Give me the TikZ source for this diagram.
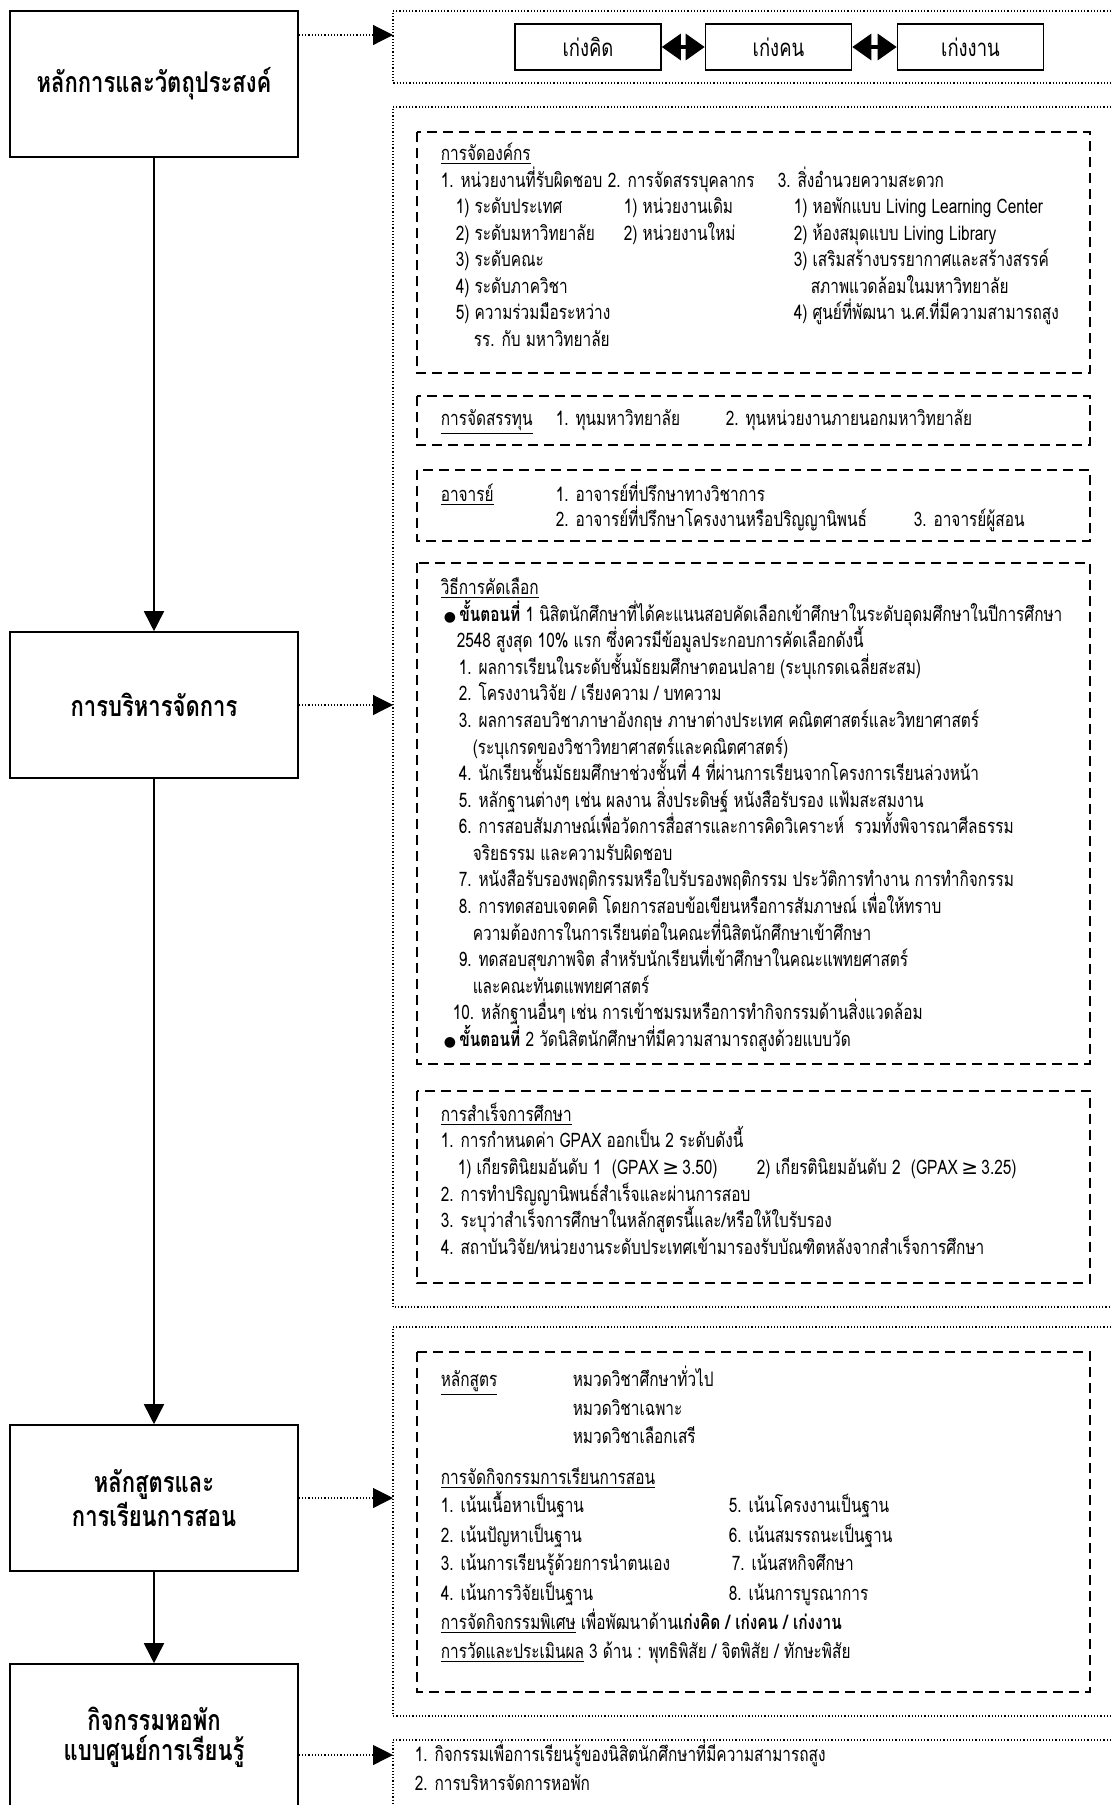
\documentclass[tikz,border=0pt]{standalone}
\usepackage{fontspec}
\setmainfont[Script=Thai,FakeStretch=0.77]{Loma}
\newfontfamily\symfont{DejaVu Sans}
\usepackage{tikz}
\usetikzlibrary{arrows.meta}

\newcommand{\dotb}{{\symfont\fontsize{7}{8}\selectfont ●}}
\newcommand{\gte}{\,{\symfont ≥}\,}

\begin{document}
\begin{tikzpicture}[x=0.5pt,y=-0.5pt,>={Triangle[length=10pt,width=10pt]},
                    line width=0.8pt]
  \tikzstyle{mainbox}=[rectangle,draw=black,fill=white,minimum width=144pt,
                       minimum height=73pt,align=center,
                       font=\fontsize{14.3}{15}\selectfont\bfseries]
  \tikzstyle{skill}=[rectangle,draw=black,fill=white,minimum width=73pt,
                     minimum height=23pt,font=\fontsize{12}{14}\selectfont]
  \tikzstyle{frame}=[densely dotted,line width=0.6pt]
  \tikzstyle{dbox}=[dash pattern=on 5pt off 3pt,line width=1pt]
  \tikzstyle{ln}=[anchor=west,inner sep=0pt,text height=7pt,text depth=2.5pt,
                  font=\fontsize{10}{12}\selectfont]

  \useasboundingbox (0,0) rectangle (1111,1805);

  % left column
  \node[mainbox] (aim)    at (154,84)   {หลักการและวัตถุประสงค์};
  \node[mainbox] (admin)  at (154,705)  {การบริหารจัดการ};
  \node[mainbox] (course) at (154,1498) {หลักสูตรและ\\การเรียนการสอน};
  \node[mainbox] (dorm)   at (154,1737) {กิจกรรมหอพัก\\แบบศูนย์การเรียนรู้};

  \draw[->] (aim) -- (admin);
  \draw[->] (admin) -- (course);
  \draw[->] (course) -- (dorm);

  % dotted frames on the right
  \draw[frame] (1111,11) -| (393,83) -- (1111,83);
  \draw[frame] (1111,107) -| (393,1307) -- (1111,1307);
  \draw[frame] (1111,1327) -| (393,1716) -- (1111,1716);
  \draw[frame] (1111,1740) -| (393,1815);

  \coordinate (tipA) at (393,35);
  \coordinate (tipB) at (393,705);
  \coordinate (tipC) at (393,1498);
  \coordinate (tipD) at (393,1755);
  \draw[frame,->] (aim.east |- tipA) -- (tipA);
  \draw[frame,->] (admin.east) -- (tipB);
  \draw[frame,->] (course.east) -- (tipC);
  \draw[frame,->] (dorm.east |- tipD) -- (tipD);

  % top frame
  \node[skill] (think) at (588,47)   {เก่งคิด};
  \node[skill] (mind)  at (778.5,47) {เก่งคน};
  \node[skill] (work)  at (970.5,47) {เก่งงาน};
  \draw[<->,line width=1.6pt,>={Triangle[length=9.5pt,width=13pt]}] (think) -- (mind);
  \draw[<->,line width=1.6pt,>={Triangle[length=9.5pt,width=13pt]}] (mind) -- (work);

  % dashed boxes
  \draw[dbox] (417,132) rectangle (1090,373);
  \draw[dbox] (417,396) rectangle (1090,445);
  \draw[dbox] (417,470) rectangle (1090,541);
  \draw[dbox] (417,563) rectangle (1090,1064);
  \draw[dbox] (417,1091) rectangle (1090,1283);
  \draw[dbox] (417,1352) rectangle (1090,1692);

  % organisation
  \node[ln] (org0)  at (440,156) {\underline{การจัดองค์กร}};
  \node[ln] (org1a) at (440,183) {1. หน่วยงานที่รับผิดชอบ};
  \node[ln] (org1b) at (607,183) {2. การจัดสรรบุคลากร};
  \node[ln] (org1c) at (777,183) {3. สิ่งอำนวยความสะดวก};
  \node[ln] (org2a) at (455,209) {1) ระดับประเทศ};
  \node[ln] (org2b) at (623,209) {1) หน่วยงานเดิม};
  \node[ln] (org2c) at (793,209) {1) หอพักแบบ Living Learning Center};
  \node[ln] (org3a) at (455,236) {2) ระดับมหาวิทยาลัย};
  \node[ln] (org3b) at (623,236) {2) หน่วยงานใหม่};
  \node[ln] (org3c) at (793,236) {2) ห้องสมุดแบบ Living Library};
  \node[ln] (org4a) at (455,262) {3) ระดับคณะ};
  \node[ln] (org4c) at (793,262) {3) เสริมสร้างบรรยากาศและสร้างสรรค์};
  \node[ln] (org5a) at (455,289) {4) ระดับภาควิชา};
  \node[ln] (org5c) at (810,289) {สภาพแวดล้อมในมหาวิทยาลัย};
  \node[ln] (org6a) at (455,315) {5) ความร่วมมือระหว่าง};
  \node[ln] (org6c) at (793,315) {4) ศูนย์ที่พัฒนา น.ศ.ที่มีความสามารถสูง};
  \node[ln] (org7a) at (473,342) {รร. กับ มหาวิทยาลัย};

  % funds
  \node[ln] (fund0) at (440,421) {\underline{การจัดสรรทุน}};
  \node[ln] (fund1) at (555,421) {1. ทุนมหาวิทยาลัย};
  \node[ln] (fund2) at (725,421) {2. ทุนหน่วยงานภายนอกมหาวิทยาลัย};

  % advisers
  \node[ln] (adv0) at (440,497) {\underline{อาจารย์}};
  \node[ln] (adv1) at (555,497) {1. อาจารย์ที่ปรึกษาทางวิชาการ};
  \node[ln] (adv2) at (555,522) {2. อาจารย์ที่ปรึกษาโครงงานหรือปริญญานิพนธ์};
  \node[ln] (adv3) at (913,522) {3. อาจารย์ผู้สอน};

  % selection
  \node[ln] (sel0)  at (440,590)  {\underline{วิธีการคัดเลือก}};
  \node[ln] (sel1)  at (443,617)  {\dotb\,\textbf{ขั้นตอนที่} 1 นิสิตนักศึกษาที่ได้คะแนนสอบคัดเลือกเข้าศึกษาในระดับอุดมศึกษาในปีการศึกษา};
  \node[ln] (sel2)  at (456,643)  {2548 สูงสุด 10\% แรก ซึ่งควรมีข้อมูลประกอบการคัดเลือกดังนี้};
  \node[ln] (sel3)  at (458,670)  {1. ผลการเรียนในระดับชั้นมัธยมศึกษาตอนปลาย (ระบุเกรดเฉลี่ยสะสม)};
  \node[ln] (sel4)  at (458,696)  {2. โครงงานวิจัย / เรียงความ / บทความ};
  \node[ln] (sel5)  at (458,723)  {3. ผลการสอบวิชาภาษาอังกฤษ ภาษาต่างประเทศ คณิตศาสตร์และวิทยาศาสตร์};
  \node[ln] (sel6)  at (472,750)  {(ระบุเกรดของวิชาวิทยาศาสตร์และคณิตศาสตร์)};
  \node[ln] (sel7)  at (458,776)  {4. นักเรียนชั้นมัธยมศึกษาช่วงชั้นที่ 4 ที่ผ่านการเรียนจากโครงการเรียนล่วงหน้า};
  \node[ln] (sel8)  at (458,803)  {5. หลักฐานต่างๆ เช่น ผลงาน สิ่งประดิษฐ์ หนังสือรับรอง แฟ้มสะสมงาน};
  \node[ln] (sel9)  at (458,829)  {6. การสอบสัมภาษณ์เพื่อวัดการสื่อสารและการคิดวิเคราะห์~ รวมทั้งพิจารณาศีลธรรม};
  \node[ln] (sel10) at (472,856)  {จริยธรรม และความรับผิดชอบ};
  \node[ln] (sel11) at (458,882)  {7. หนังสือรับรองพฤติกรรมหรือใบรับรองพฤติกรรม ประวัติการทำงาน การทำกิจกรรม};
  \node[ln] (sel12) at (458,909)  {8. การทดสอบเจตคติ โดยการสอบข้อเขียนหรือการสัมภาษณ์ เพื่อให้ทราบ};
  \node[ln] (sel13) at (472,936)  {ความต้องการในการเรียนต่อในคณะที่นิสิตนักศึกษาเข้าศึกษา};
  \node[ln] (sel14) at (458,962)  {9. ทดสอบสุขภาพจิต สำหรับนักเรียนที่เข้าศึกษาในคณะแพทยศาสตร์};
  \node[ln] (sel15) at (472,989)  {และคณะทันตแพทยศาสตร์};
  \node[ln] (sel16) at (452,1015) {10. หลักฐานอื่นๆ เช่น การเข้าชมรมหรือการทำกิจกรรมด้านสิ่งแวดล้อม};
  \node[ln] (sel17) at (443,1042) {\dotb\,\textbf{ขั้นตอนที่} 2 วัดนิสิตนักศึกษาที่มีความสามารถสูงด้วยแบบวัด};

  % graduation
  \node[ln] (grad0)  at (440,1117) {\underline{การสำเร็จการศึกษา}};
  \node[ln] (grad1)  at (440,1143) {1. การกำหนดค่า GPAX ออกเป็น 2 ระดับดังนี้};
  \node[ln] (grad2a) at (457,1170) {1) เกียรตินิยมอันดับ 1~ (GPAX\gte3.50)};
  \node[ln] (grad2b) at (756,1170) {2) เกียรตินิยมอันดับ 2~ (GPAX\gte3.25)};
  \node[ln] (grad3)  at (440,1197) {2. การทำปริญญานิพนธ์สำเร็จและผ่านการสอบ};
  \node[ln] (grad4)  at (440,1223) {3. ระบุว่าสำเร็จการศึกษาในหลักสูตรนี้และ/หรือให้ใบรับรอง};
  \node[ln] (grad5)  at (440,1250) {4. สถาบันวิจัย/หน่วยงานระดับประเทศเข้ามารองรับบัณฑิตหลังจากสำเร็จการศึกษา};

  % curriculum
  \node[ln] (cur0)  at (440,1382) {\underline{หลักสูตร}};
  \node[ln] (cur1)  at (572,1382) {หมวดวิชาศึกษาทั่วไป};
  \node[ln] (cur2)  at (572,1411) {หมวดวิชาเฉพาะ};
  \node[ln] (cur3)  at (572,1439) {หมวดวิชาเลือกเสรี};
  \node[ln] (cur4)  at (440,1480) {\underline{การจัดกิจกรรมการเรียนการสอน}};
  \node[ln] (cur5a) at (440,1508) {1. เน้นเนื้อหาเป็นฐาน};
  \node[ln] (cur5b) at (728,1508) {5. เน้นโครงงานเป็นฐาน};
  \node[ln] (cur6a) at (440,1538) {2. เน้นปัญหาเป็นฐาน};
  \node[ln] (cur6b) at (728,1538) {6. เน้นสมรรถนะเป็นฐาน};
  \node[ln] (cur7a) at (440,1566) {3. เน้นการเรียนรู้ด้วยการนำตนเอง};
  \node[ln] (cur7b) at (731,1566) {7. เน้นสหกิจศึกษา};
  \node[ln] (cur8a) at (440,1596) {4. เน้นการวิจัยเป็นฐาน};
  \node[ln] (cur8b) at (728,1596) {8. เน้นการบูรณาการ};
  \node[ln] (cur9)  at (440,1625) {\underline{การจัดกิจกรรมพิเศษ} เพื่อพัฒนาด้าน\textbf{เก่งคิด / เก่งคน / เก่งงาน}};
  \node[ln] (cur10) at (440,1654) {\underline{การวัดและประเมินผล} 3 ด้าน : พุทธิพิสัย / จิตพิสัย / ทักษะพิสัย};

  % dormitory
  \node[ln] (dorm1) at (414,1757) {1. กิจกรรมเพื่อการเรียนรู้ของนิสิตนักศึกษาที่มีความสามารถสูง};
  \node[ln] (dorm2) at (414,1786) {2. การบริหารจัดการหอพัก};

\end{tikzpicture}
\end{document}
